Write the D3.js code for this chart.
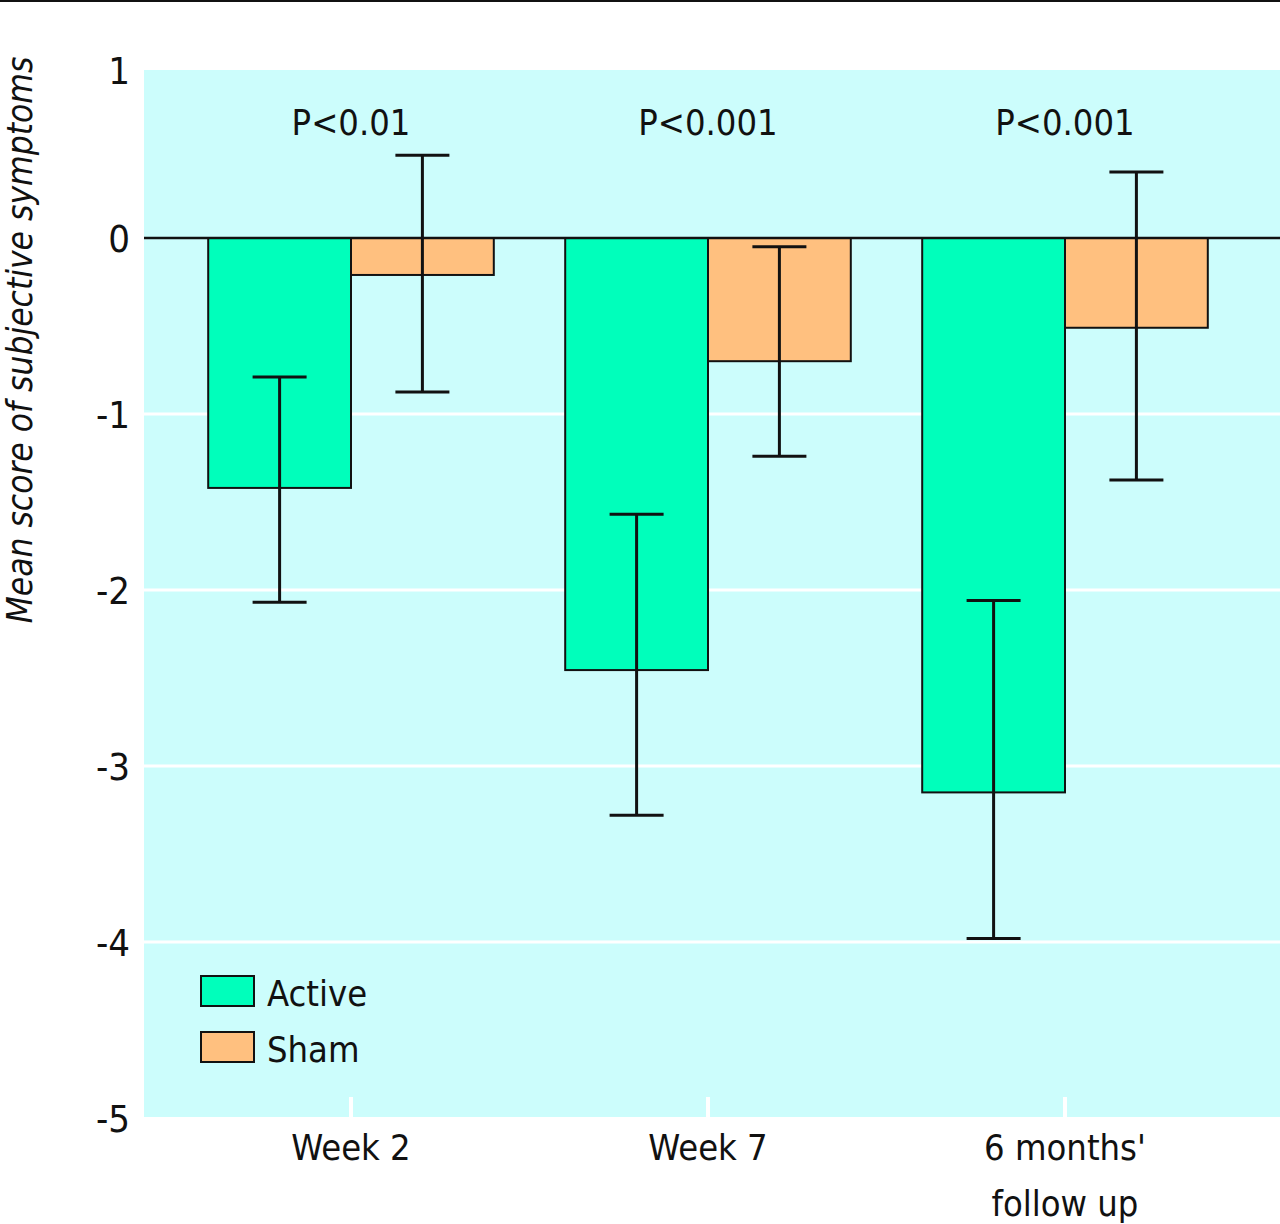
<!DOCTYPE html>
<html>
<head>
<meta charset="utf-8">
<script src="https://cdn.jsdelivr.net/npm/d3@7"></script>
<style>
  body { margin: 0; background: #fff; }
  text { font-family: "Liberation Sans Narrow", "DejaVu Sans Condensed", "Roboto Condensed", sans-serif; fill: #111; }
</style>
</head>
<body>
<svg id="chart" width="1280" height="1224"></svg>
<script>
var categories = ["Week 2", "Week 7", "6 months' follow up"];
var catLines = [["Week 2"], ["Week 7"], ["6 months'", "follow up"]];
var series = ["Active", "Sham"];
var means = {
  Active: [-1.42, -2.455, -3.15],
  Sham:   [-0.21, -0.70, -0.51]
};
var errHigh = {
  Active: [-0.79, -1.57, -2.06],
  Sham:   [0.47, -0.05, 0.375]
};
var errLow = {
  Active: [-2.07, -3.28, -3.98],
  Sham:   [-0.875, -1.24, -1.375]
};
var pLabels = ["P<0.01", "P<0.001", "P<0.001"];
var yTicks = [1, 0, -1, -2, -3, -4, -5];
var colors = { Active: "#00ffbb", Sham: "#ffc07f" };

var svg = d3.select("#chart");
var plotL = 144, plotR = 1280, plotT = 70, plotB = 1117;
var fs = 36;

var y = d3.scaleLinear().domain([1, -5]).range([62, 1118]);
var x = d3.scaleBand().domain(categories).range([172.5, 1243.5]).paddingInner(0.2).paddingOuter(0.1);
var xs = d3.scaleBand().domain(series).range([0, x.bandwidth()]);

// top rule
svg.append("line").attr("x1", 0).attr("x2", 1280).attr("y1", 1).attr("y2", 1)
  .attr("stroke", "#111").attr("stroke-width", 2);

// panel
svg.append("rect").attr("x", plotL).attr("y", plotT)
  .attr("width", plotR - plotL).attr("height", plotB - plotT).attr("fill", "#ccfdfc");

// gridlines
svg.append("g").selectAll("line").data(yTicks.filter(function(d){ return d < 0 && d > -5; }))
  .enter().append("line")
  .attr("x1", plotL).attr("x2", plotR)
  .attr("y1", function(d){ return y(d); }).attr("y2", function(d){ return y(d); })
  .attr("stroke", "#fff").attr("stroke-width", 3);

// x ticks (white)
svg.append("g").selectAll("line").data(categories).enter().append("line")
  .attr("x1", function(d){ return x(d) + x.bandwidth()/2; })
  .attr("x2", function(d){ return x(d) + x.bandwidth()/2; })
  .attr("y1", plotB - 20).attr("y2", plotB)
  .attr("stroke", "#fff").attr("stroke-width", 4);

// y axis labels (plain hyphen minus, top label sits at panel top)
svg.append("g").selectAll("text").data(yTicks).enter().append("text")
  .attr("x", 130).attr("y", function(d){ return Math.max(y(d), plotT); })
  .attr("dy", "0.36em").attr("text-anchor", "end").attr("font-size", fs + 2)
  .text(function(d){ return String(d); });

// bars
var groups = svg.append("g").selectAll("g").data(categories).enter().append("g")
  .attr("transform", function(d){ return "translate(" + x(d) + ",0)"; });

groups.each(function(cat, i) {
  var g = d3.select(this);
  series.forEach(function(s) {
    var v = means[s][i];
    g.append("rect")
      .attr("x", xs(s)).attr("width", xs.bandwidth())
      .attr("y", y(Math.max(0, v))).attr("height", Math.abs(y(v) - y(0)))
      .attr("fill", colors[s]).attr("stroke", "#111").attr("stroke-width", 2);
  });
});

// zero line
svg.append("line").attr("x1", plotL).attr("x2", plotR)
  .attr("y1", y(0)).attr("y2", y(0)).attr("stroke", "#111").attr("stroke-width", 2.5);

// error bars
groups.each(function(cat, i) {
  var g = d3.select(this);
  series.forEach(function(s) {
    var cx = xs(s) + xs.bandwidth()/2;
    g.append("line").attr("x1", cx).attr("x2", cx)
      .attr("y1", y(errHigh[s][i])).attr("y2", y(errLow[s][i]))
      .attr("stroke", "#111").attr("stroke-width", 3);
    [errHigh[s][i], errLow[s][i]].forEach(function(e) {
      g.append("line").attr("x1", cx - 27).attr("x2", cx + 27)
        .attr("y1", y(e)).attr("y2", y(e))
        .attr("stroke", "#111").attr("stroke-width", 3);
    });
  });
});

// P values
svg.append("g").selectAll("text").data(categories).enter().append("text")
  .attr("x", function(d){ return x(d) + x.bandwidth()/2; })
  .attr("y", 135).attr("text-anchor", "middle").attr("font-size", fs)
  .text(function(d, i){ return pLabels[i]; });

// x labels
var xl = svg.append("g").selectAll("text").data(categories).enter().append("text")
  .attr("x", function(d){ return x(d) + x.bandwidth()/2; })
  .attr("y", 1160).attr("text-anchor", "middle").attr("font-size", fs);
xl.each(function(d, i) {
  var t = d3.select(this);
  catLines[i].forEach(function(line, j) {
    t.append("tspan").attr("x", x(d) + x.bandwidth()/2).attr("dy", j === 0 ? 0 : 56).text(line);
  });
});

// y title
svg.append("text")
  .attr("transform", "translate(32,340) rotate(-90)")
  .attr("text-anchor", "middle").attr("font-size", 35).attr("font-style", "italic")
  .text("Mean score of subjective symptoms");

// legend
var legend = svg.append("g").selectAll("g").data(series).enter().append("g")
  .attr("transform", function(d, i){ return "translate(201," + (976 + i * 56) + ")"; });
legend.append("rect").attr("width", 53).attr("height", 30)
  .attr("fill", function(d){ return colors[d]; }).attr("stroke", "#111").attr("stroke-width", 2);
legend.append("text").attr("x", 66).attr("y", 30).attr("font-size", fs).text(function(d){ return d; });
</script>
</body>
</html>
